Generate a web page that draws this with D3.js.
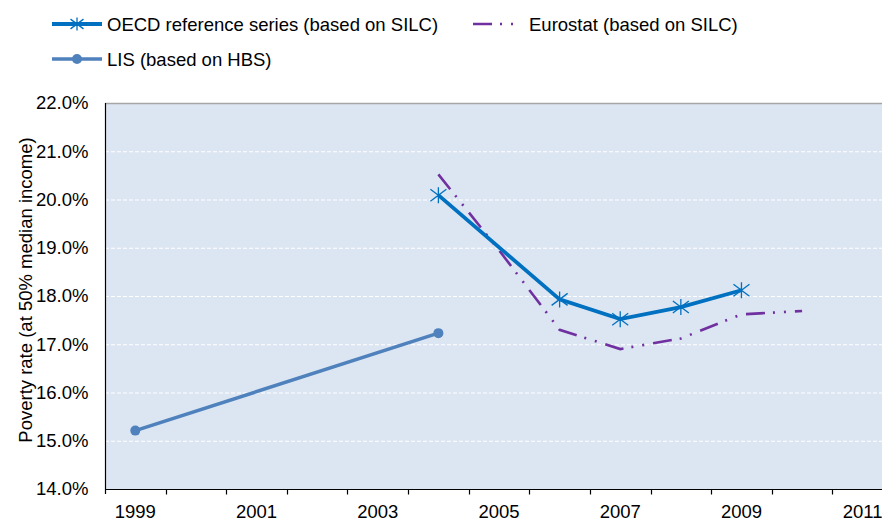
<!DOCTYPE html>
<html lang="en">
<head>
    <meta charset="UTF-8">
    <title>Poverty rate</title>
    <script src="https://d3js.org/d3.v7.min.js"></script>
    <style>
        body { margin: 0; background: #fff; }
        text { font-family: Arial, "Liberation Sans", sans-serif; fill: #000; }
    </style>
</head>
<body>
<script>
    const width = 882;
    const height = 522;

    // data
    const years = d3.range(1999, 2012);
    const yTicks = [14, 15, 16, 17, 18, 19, 20, 21, 22];

    const lisYears = [1999, 2004];
    const lisValues = [15.21, 17.23];

    const oecdYears = [2004, 2006, 2007, 2008, 2009];
    const oecdValues = [20.09, 17.93, 17.52, 17.77, 18.12];

    const eurostatYears = [2004, 2005, 2006, 2007, 2008, 2009, 2010];
    const eurostatValues = [20.52, 18.95, 17.30, 16.90, 17.12, 17.62, 17.69];

    const blue = "#0070C0";
    const lisBlue = "#4F81BD";
    const purple = "#7030A0";
    const eurostatDash = "19 8 2 9 2 9";

    const margin = {left: 105, top: 103, bottom: 489};
    const plotRight = 893; // the plot runs past the right edge of the picture

    const svg = d3.select("body").append("svg")
            .attr("width", width).attr("height", height);

    const x = d3.scaleBand().domain(years).range([margin.left, plotRight]).padding(0);
    const y = d3.scaleLinear().domain([14, 22]).range([margin.bottom, margin.top]);
    const cx = d => x(d) + x.bandwidth() / 2;

    // plot background
    svg.append("rect")
            .attr("x", margin.left).attr("y", margin.top)
            .attr("width", plotRight - margin.left).attr("height", margin.bottom - margin.top)
            .style("fill", "#DCE6F2");

    // gridlines
    svg.append("g").selectAll("line")
            .data(yTicks.filter(d => d > 14))
            .enter().append("line")
            .attr("x1", margin.left).attr("x2", plotRight)
            .attr("y1", d => y(d) + 0.5).attr("y2", d => y(d) + 0.5)
            .style("stroke", d => d === 22 ? "#A6A6A6" : "#fff")
            .style("stroke-width", d => d === 22 ? 1.5 : 1.2)
            .style("stroke-dasharray", d => d === 22 ? null : "4 2");

    // y axis
    const yAxis = d3.axisLeft(y).tickValues(yTicks).tickSize(0).tickPadding(17)
            .tickFormat(d => d3.format(".1f")(d) + "%");
    const gy = svg.append("g")
            .attr("transform", `translate(${margin.left + 0.5},0)`)
            .call(yAxis);
    gy.select(".domain").remove();
    gy.selectAll("text").style("font-size", "18.5px");
    svg.append("line")
            .attr("x1", margin.left + 0.5).attr("x2", margin.left + 0.5)
            .attr("y1", margin.top).attr("y2", margin.bottom + 5)
            .style("stroke", "#000").style("stroke-width", 1.2);

    // x axis: ticks between categories, labels on odd years
    const gx = svg.append("g").attr("transform", `translate(0,${margin.bottom + 0.5})`);
    gx.append("line")
            .attr("x1", margin.left).attr("x2", plotRight)
            .style("stroke", "#000").style("stroke-width", 1.2);
    gx.selectAll("line.tick")
            .data(years.slice(1))
            .enter().append("line").attr("class", "tick")
            .attr("x1", d => Math.round(x(d)) + 0.5).attr("x2", d => Math.round(x(d)) + 0.5)
            .attr("y1", 0).attr("y2", 5)
            .style("stroke", "#000").style("stroke-width", 1.2);
    gx.selectAll("text")
            .data(years.filter(d => d % 2 === 1))
            .enter().append("text")
            .attr("x", cx).attr("y", 28)
            .attr("text-anchor", "middle")
            .style("font-size", "18.5px")
            .text(d => d);

    // y axis title
    svg.append("text")
            .attr("transform", `translate(32,290) rotate(-90)`)
            .attr("text-anchor", "middle")
            .style("font-size", "18.5px")
            .text("Poverty rate (at 50% median income)");

    // series
    const line = d3.line().x(d => cx(d[0])).y(d => y(d[1]));

    const lisData = d3.zip(lisYears, lisValues);
    const oecdData = d3.zip(oecdYears, oecdValues);
    const eurostatData = d3.zip(eurostatYears, eurostatValues);

    svg.append("path").datum(eurostatData)
            .attr("d", line)
            .style("fill", "none").style("stroke", purple)
            .style("stroke-width", 2.6)
            .style("stroke-dasharray", eurostatDash);

    svg.append("path").datum(lisData)
            .attr("d", line)
            .style("fill", "none").style("stroke", lisBlue)
            .style("stroke-width", 3.5);
    svg.append("g").selectAll("circle")
            .data(lisData)
            .enter().append("circle")
            .attr("cx", d => cx(d[0])).attr("cy", d => y(d[1]))
            .attr("r", 5)
            .style("fill", lisBlue);

    svg.append("path").datum(oecdData)
            .attr("d", line)
            .style("fill", "none").style("stroke", blue)
            .style("stroke-width", 3.8);

    function star(g, s) {
        g.append("path")
                .attr("d", `M0,${-s}V${s}M${-s},${-s * 0.75}L${s},${s * 0.75}M${-s},${s * 0.75}L${s},${-s * 0.75}`)
                .style("fill", "none").style("stroke", blue).style("stroke-width", 1.3);
    }

    svg.append("g").selectAll("g")
            .data(oecdData)
            .enter().append("g")
            .attr("transform", d => `translate(${cx(d[0])},${y(d[1])})`)
            .each(function () { star(d3.select(this), 8); });

    // legend
    const legend = svg.append("g");
    const l1 = legend.append("g").attr("transform", "translate(52,24)");
    l1.append("line").attr("x1", 0).attr("x2", 50)
            .style("stroke", blue).style("stroke-width", 3.8);
    l1.append("g").attr("transform", "translate(25,0)").call(star, 6.5);
    l1.append("text").attr("x", 55).attr("y", 6.5).style("font-size", "18.5px")
            .text("OECD reference series (based on SILC)");

    const l2 = legend.append("g").attr("transform", "translate(52,59)");
    l2.append("line").attr("x1", 0).attr("x2", 50)
            .style("stroke", lisBlue).style("stroke-width", 3.5);
    l2.append("circle").attr("cx", 25).attr("r", 5).style("fill", lisBlue);
    l2.append("text").attr("x", 55).attr("y", 6.5).style("font-size", "18.5px")
            .text("LIS (based on HBS)");

    const l3 = legend.append("g").attr("transform", "translate(473,24)");
    l3.append("line").attr("x1", 0).attr("x2", 42)
            .style("stroke", purple).style("stroke-width", 2.6)
            .style("stroke-dasharray", eurostatDash);
    l3.append("text").attr("x", 56).attr("y", 6.5).style("font-size", "18.5px")
            .text("Eurostat (based on SILC)");
</script>
</body>
</html>
